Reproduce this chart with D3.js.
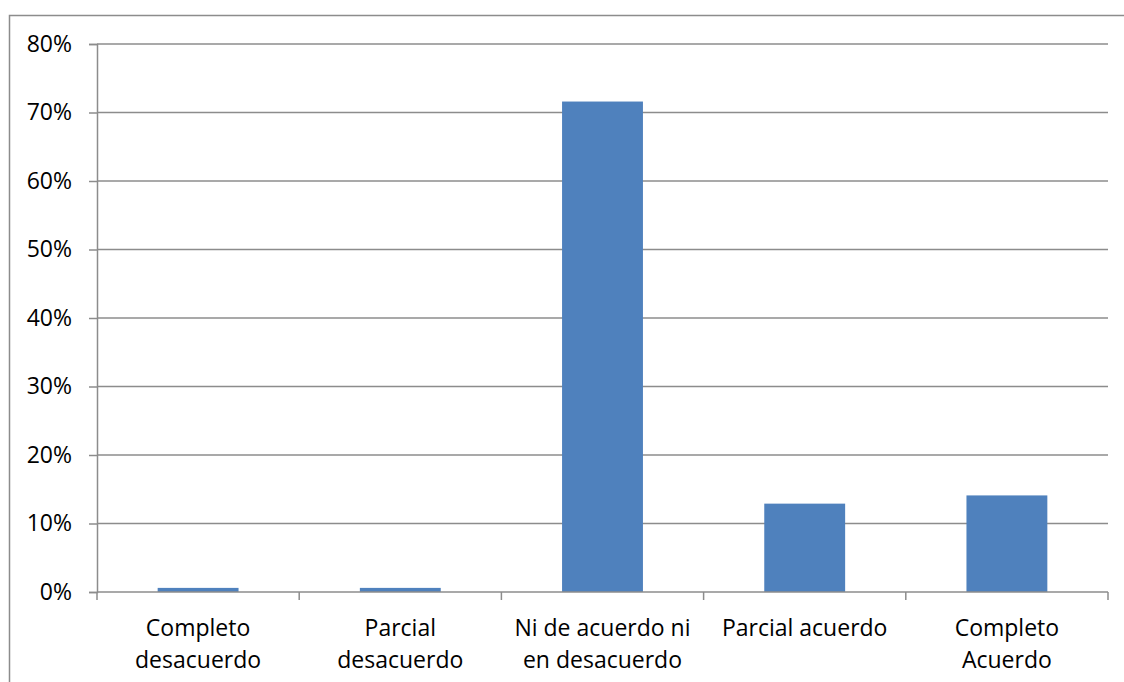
<!DOCTYPE html>
<html>
<head>
<meta charset="utf-8">
<script src="https://cdn.jsdelivr.net/npm/d3@7"></script>
<style>
  html, body { margin: 0; padding: 0; background: #fff; }
  svg { display: block; }
</style>
</head>
<body>
<svg id="chart" width="1124" height="682"></svg>
<script>
// Response categories (each label split into two lines)
const categories = [
  ["Completo", "desacuerdo"],
  ["Parcial", "desacuerdo"],
  ["Ni de acuerdo ni", "en desacuerdo"],
  ["Parcial acuerdo", ""],
  ["Completo", "Acuerdo"]
];
// Share of responses per category (fraction)
const values = [0.006, 0.006, 0.716, 0.129, 0.141];
// Y axis ticks
const yTicks = [0, 0.1, 0.2, 0.3, 0.4, 0.5, 0.6, 0.7, 0.8];

const svg = d3.select("#chart");
const W = 1124, H = 682;
const margin = { left: 97, right: 16, top: 44, bottom: 90 };
const font = "'Open Sans', sans-serif";
const gray = "#8c8c8c";

// Outer chart frame
svg.append("rect")
  .attr("x", 9.5).attr("y", 15.5)
  .attr("width", W).attr("height", H)
  .attr("fill", "none").attr("stroke", gray).attr("stroke-width", 1.5);

const x = d3.scaleBand()
  .domain(d3.range(categories.length))
  .range([margin.left, W - margin.right])
  .paddingInner(0.6).paddingOuter(0.3);

const y = d3.scaleLinear()
  .domain([0, 0.8])
  .range([H - margin.bottom, margin.top]);

// Horizontal gridlines
svg.append("g")
  .selectAll("line")
  .data(yTicks.filter(d => d > 0))
  .join("line")
  .attr("x1", margin.left).attr("x2", W - margin.right)
  .attr("y1", d => y(d)).attr("y2", d => y(d))
  .attr("stroke", gray).attr("stroke-width", 1.5);

// Bars
svg.append("g")
  .selectAll("rect")
  .data(values)
  .join("rect")
  .attr("x", (d, i) => x(i))
  .attr("width", x.bandwidth())
  .attr("y", d => y(d))
  .attr("height", d => y(0) - y(d))
  .attr("fill", "#4f81bd");

// Y axis
const yAxis = d3.axisLeft(y)
  .tickValues(yTicks)
  .tickFormat(d3.format(".0%"))
  .tickSize(8)
  .tickPadding(17);
const gy = svg.append("g")
  .attr("transform", `translate(${margin.left},0)`)
  .call(yAxis);
gy.select(".domain").attr("stroke", gray).attr("stroke-width", 1.5);
gy.selectAll(".tick line").attr("stroke", gray).attr("stroke-width", 1.5);
gy.selectAll(".tick text")
  .attr("font-family", font).attr("font-size", 23).attr("fill", "#000");

// X axis: baseline with ticks at category boundaries
const boundaries = d3.range(categories.length + 1)
  .map(i => margin.left + i * (W - margin.right - margin.left) / categories.length);
const gx = svg.append("g");
gx.append("line")
  .attr("x1", margin.left).attr("x2", W - margin.right)
  .attr("y1", y(0)).attr("y2", y(0))
  .attr("stroke", gray).attr("stroke-width", 1.5);
gx.selectAll("line.tick")
  .data(boundaries)
  .join("line")
  .attr("class", "tick")
  .attr("x1", d => d).attr("x2", d => d)
  .attr("y1", y(0)).attr("y2", y(0) + 8)
  .attr("stroke", gray).attr("stroke-width", 1.5);

// Category labels
const labels = svg.append("g")
  .selectAll("text")
  .data(categories)
  .join("text")
  .attr("text-anchor", "middle")
  .attr("font-family", font).attr("font-size", 23).attr("fill", "#000");
labels.each(function (d, i) {
  const cx = x(i) + x.bandwidth() / 2;
  d3.select(this).selectAll("tspan")
    .data(d.filter(s => s))
    .join("tspan")
    .attr("x", cx)
    .attr("y", (s, j) => 636 + j * 32)
    .text(s => s);
});
</script>
</body>
</html>
